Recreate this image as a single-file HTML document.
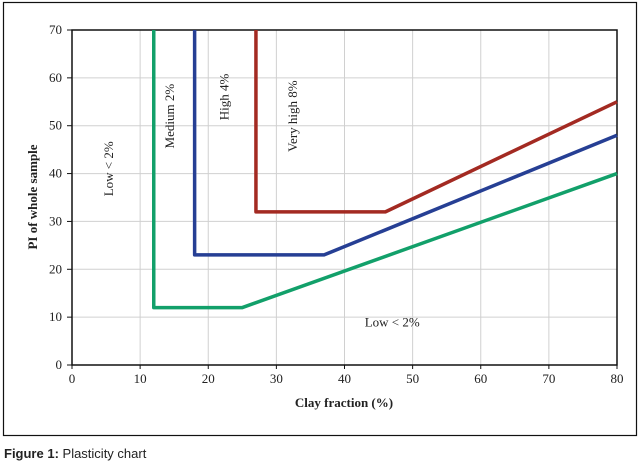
<!DOCTYPE html>
<html><head><meta charset="utf-8"><style>
body{margin:0;background:#fff;width:642px;height:469px;overflow:hidden}
svg{display:block}
text{font-family:"Liberation Serif",serif;fill:#222}
</style></head><body>
<svg width="642" height="469">
<rect x="3.5" y="2.5" width="633" height="433" fill="none" stroke="#111" stroke-width="1.2"/>
<g id="grid"></g>
<g id="axes"></g>
<g id="series"></g>
<g id="labels"></g>
<text x="344" y="407" text-anchor="middle" font-weight="bold" font-size="13">Clay fraction (%)</text>
<text transform="translate(37,197) rotate(-90)" text-anchor="middle" font-weight="bold" font-size="13">PI of whole sample</text>
<text x="4" y="458" font-size="13" style="font-family:'Liberation Sans',sans-serif"><tspan font-weight="bold">Figure 1:</tspan> Plasticity chart</text>
</svg>
<script>
const xTicks=[0,10,20,30,40,50,60,70,80];
const yTicks=[0,10,20,30,40,50,60,70];
const lowX=[12,12,25,80], lowY=[70,12,12,40];
const medX=[18,18,37,80], medY=[70,23,23,48];
const highX=[27,27,46,80], highY=[70,32,32,55];
const seriesNames=['low-line','medium-line','high-line'];
const seriesColors=['#12a06a','#263f94','#a32a22'];
const regionLabels=['Low < 2%','Medium 2%','High 4%','Very high 8%','Low < 2%'];
const labelX=[6,15,23,33,47], labelY=[41,52,56,52,8];
const labelRot=[true,true,true,true,false];

const L=72,R=617,T=30,B=365;
const sx=v=>L+(v-0)/80*(R-L), sy=v=>B-v/70*(B-T);
const NS='http://www.w3.org/2000/svg';
function mk(t,a,p){const e=document.createElementNS(NS,t);for(const k in a)e.setAttribute(k,a[k]);p.appendChild(e);return e;}
const grid=document.getElementById('grid'),axes=document.getElementById('axes'),ser=document.getElementById('series'),lab=document.getElementById('labels');
xTicks.forEach(v=>{
 const g=mk('line',{x1:sx(v),x2:sx(v),y1:T,y2:B,stroke:'#d0d0d0','stroke-width':1},grid);
 
 
 const tk=mk('line',{x1:sx(v),x2:sx(v),y1:B,y2:B+4,stroke:'#111'},axes);
 
 
 const t=mk('text',{x:sx(v),y:B+18,'text-anchor':'middle','font-size':13},axes);t.textContent=v;
 
 
});
yTicks.forEach(v=>{
 const g=mk('line',{x1:L,x2:R,y1:sy(v),y2:sy(v),stroke:'#d0d0d0','stroke-width':1},grid);
 
 
 const tk=mk('line',{x1:L-5,x2:L,y1:sy(v),y2:sy(v),stroke:'#111'},axes);
 
 
 const t=mk('text',{x:L-10,y:sy(v)+4,'text-anchor':'end','font-size':13},axes);t.textContent=v;
 
 
});
const frame=mk('rect',{x:L,y:T,width:R-L,height:B-T,fill:'none',stroke:'#111','stroke-width':1.5},axes);


[[lowX,lowY],[medX,medY],[highX,highY]].forEach((s,i)=>{
 const pts=s[0].map((x,j)=>sx(x)+','+sy(s[1][j])).join(' ');
 const p=mk('polyline',{points:pts,fill:'none',stroke:seriesColors[i],'stroke-width':3.5,'stroke-linejoin':'round'},ser);
 
 
});
regionLabels.forEach((s,i)=>{
 const x=sx(labelX[i]),y=sy(labelY[i]);
 const a={'font-size':13,'text-anchor':'middle',x:x,y:y};
 if(labelRot[i])a.transform='rotate(-90 '+x+' '+y+')';
 const t=mk('text',a,lab);t.textContent=s;
 
 
});
</script>
</body></html>
